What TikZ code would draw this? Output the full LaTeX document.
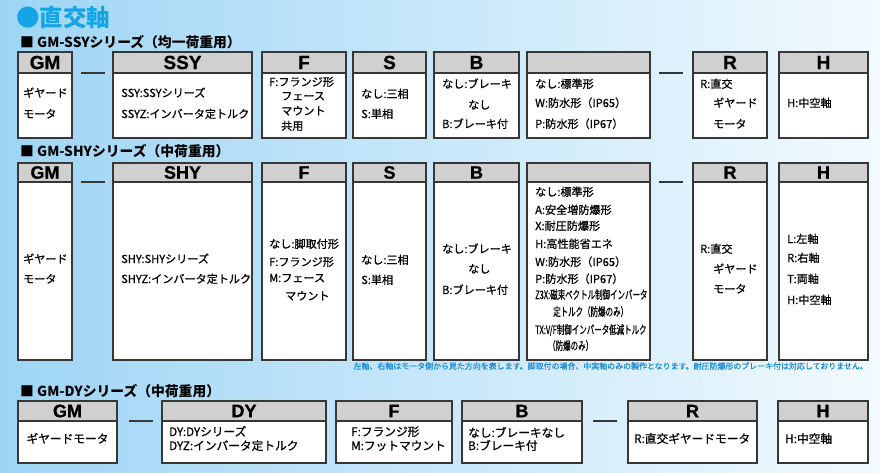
\documentclass[tikz,border=0pt]{standalone}
\usepackage{fontspec}
\usepackage{graphicx}
\setmainfont{Noto Sans CJK JP}
\newfontfamily\jpb{Noto Sans CJK JP}[FakeBold=0.7]
\newfontfamily\lsans{Liberation Sans}[FakeBold=0.8]
\usetikzlibrary{calc}
\definecolor{bgL}{RGB}{158,213,245}
\definecolor{bgM}{RGB}{214,238,251}
\definecolor{bgR}{RGB}{242,250,254}
\definecolor{ttl}{RGB}{20,165,230}
\definecolor{note}{RGB}{30,140,215}
\definecolor{hdr}{RGB}{208,208,208}
\definecolor{edge}{RGB}{55,55,55}
\tikzset{
 bodybox/.style={draw=edge, line width=1.1pt, fill=white, inner sep=0pt, outer sep=0pt, anchor=north west},
 headbox/.style={draw=edge, line width=1.1pt, fill=hdr, inner sep=0pt, outer sep=0pt, anchor=north west},
 txt/.style={anchor=west, inner sep=0pt, text height=0.8em, text depth=0.2em, font=\jpb\fontsize{11.1}{12}\selectfont},
 txtc/.style={txt, font=\jpb\fontsize{11.6}{12}\selectfont},
 txtb/.style={txt, font=\jpb\fontsize{11.7}{12}\selectfont},
 sepline/.style={draw=edge, line width=1.3pt},
 heading/.style={anchor=west, inner sep=0pt, font=\bfseries\fontsize{13.8}{14}\selectfont},
}
\newcounter{tc}
\newcommand\tline[4][]{\stepcounter{tc}\node[txt,#1] (t\arabic{tc}) at (#2,#3) {#4};}
\newcommand\specbox[8]{%
 \node[bodybox, minimum width={#4-#2}, minimum height={#5-#3}] (#1) at (#2,#3) {};
 \node[headbox, minimum width={#4-#2}, minimum height={#6}, font=\lsans\bfseries\fontsize{#8}{#8}\selectfont] (#1h) at (#2,#3) {#7};
}
\begin{document}
\begin{tikzpicture}[x=1pt,y=-1pt]
\useasboundingbox (0,0) rectangle (880,472);
\shade[left color=bgL, middle color=bgM, right color=bgR] (0,0) rectangle (880,472);

\node[anchor=west, inner sep=0pt, text=ttl, font=\bfseries\fontsize{23.5}{24}\selectfont] (title) at (16,18) {●直交軸};

% ---------- row 1
\node[heading] (hd1) at (20,42) {■ GM-SSYシリーズ（均一荷重用）};
\specbox{gma}{18}{52}{72}{138}{21}{GM}{19}
\specbox{ssya}{113}{52}{252}{138}{21}{SSY}{19}
\specbox{fa}{262}{52}{346}{138}{21}{F}{19}
\specbox{sa}{353}{52}{426}{138}{21}{S}{19}
\specbox{ba}{434}{52}{519}{138}{21}{B}{19}
\specbox{xa}{527}{52}{650}{138}{21}{}{19}
\specbox{ra}{693}{52}{767}{138}{21}{R}{19}
\specbox{ha}{779}{52}{868}{138}{21}{H}{19}
\draw[sepline] ([xshift=9pt]gmah.south east) -- ([xshift=-8pt]ssyah.south west);
\draw[sepline] ([xshift=9pt]xah.south east) -- ([xshift=-10pt]rah.south west);

\tline{23}{94}{ギヤード}
\tline{23}{115}{モータ}
\tline{121}{94}{SSY:SSYシリーズ}
\tline{121}{115}{SSYZ:インバータ定トルク}
\tline{269}{83}{F:フランジ形}
\tline{281}{97}{フェース}
\tline{281}{112}{マウント}
\tline{281}{127}{共用}
\tline{361}{95}{なし:三相}
\tline{361}{115}{S:単相}
\tline{442}{85}{なし:ブレーキ}
\tline{468}{106}{なし}
\tline{442}{125}{B:ブレーキ付}
\tline{535}{85}{なし:標準形}
\tline{535}{104}{W:防水形（IP65）}
\tline{535}{125}{P:防水形（IP67）}
\tline{700}{85}{R:直交}
\tline{713}{104}{ギヤード}
\tline{713}{125}{モータ}
\tline{787}{104}{H:中空軸}

% ---------- row 2
\node[heading] (hd2) at (20,151) {■ GM-SHYシリーズ（中荷重用）};
\specbox{gmb}{18}{163}{72}{360}{19}{GM}{18}
\specbox{shyb}{113}{163}{252}{360}{19}{SHY}{18}
\specbox{fb}{262}{163}{346}{360}{19}{F}{18}
\specbox{sb}{353}{163}{426}{360}{19}{S}{18}
\specbox{bb}{434}{163}{519}{360}{19}{B}{18}
\specbox{xb}{527}{163}{650}{360}{19}{}{18}
\specbox{rb}{693}{163}{767}{360}{19}{R}{18}
\specbox{hb}{779}{163}{868}{360}{19}{H}{18}
\draw[sepline] ([xshift=9pt]gmbh.south east) -- ([xshift=-8pt]shybh.south west);
\draw[sepline] ([xshift=9pt]xbh.south east) -- ([xshift=-10pt]rbh.south west);

\tline{23}{260}{ギヤード}
\tline{23}{280}{モータ}
\tline{121}{260}{SHY:SHYシリーズ}
\tline{121}{280}{SHYZ:インバータ定トルク}
\tline{269}{245}{なし:脚取付形}
\tline{269}{263}{F:フランジ形}
\tline{269}{279}{M:フェース}
\tline{285}{297}{マウント}
\tline{361}{261}{なし:三相}
\tline{361}{281}{S:単相}
\tline{442}{250}{なし:ブレーキ}
\tline{468}{270}{なし}
\tline{442}{291}{B:ブレーキ付}
\tline{535}{193}{なし:標準形}
\tline{535}{211}{A:安全増防爆形}
\tline{535}{227}{X:耐圧防爆形}
\tline{535}{245}{H:高性能省エネ}
\tline{535}{263}{W:防水形（IP65）}
\tline{535}{280}{P:防水形（IP67）}
\tline[txtc]{535}{296}{\scalebox{0.645}[1]{Z3X:磁束ベクトル制御インバータ}}
\tline[txtc]{553}{313}{\scalebox{0.645}[1]{定トルク（防爆のみ）}}
\tline[txtc]{535}{331}{\scalebox{0.645}[1]{TX:V/F制御インバータ低減トルク}}
\tline[txtc]{548}{347}{\scalebox{0.645}[1]{（防爆のみ）}}
\tline{700}{250}{R:直交}
\tline{713}{270}{ギヤード}
\tline{713}{290}{モータ}
\tline{787}{240}{L:左軸}
\tline{787}{259}{R:右軸}
\tline{787}{280}{T:両軸}
\tline{787}{301}{H:中空軸}

\node[anchor=east, inner sep=0pt, text=note, font=\jpb\fontsize{7.95}{8}\selectfont] (foot) at (868,366) {左軸、右軸はモータ側から見た方向を表します。脚取付の場合、中実軸のみの製作となります。耐圧防爆形のブレーキ付は対応しておりません。};

% ---------- row 3
\node[heading] (hd3) at (20,391) {■ GM-DYシリーズ（中荷重用）};
\specbox{gmc}{18}{401}{117}{463}{20}{GM}{18}
\specbox{dyc}{162}{401}{326}{463}{20}{DY}{18}
\specbox{fc}{336}{401}{452}{463}{20}{F}{18}
\specbox{bc}{462}{401}{582}{463}{20}{B}{18}
\specbox{rc}{628}{401}{757}{463}{20}{R}{18}
\specbox{hc}{778}{401}{868}{463}{20}{H}{18}
\draw[sepline] ([xshift=12pt]gmch.south east) -- ([xshift=-9pt]dych.south west);
\draw[sepline] ([xshift=11pt]bch.south east) -- ([xshift=-11pt]rch.south west);

\tline[txtb, anchor=center]{67.5}{440}{ギヤードモータ}
\tline[txtb]{169}{433}{DY:DYシリーズ}
\tline[txtb]{169}{447}{DYZ:インバータ定トルク}
\tline[txtb]{351}{433}{F:フランジ形}
\tline[txtb]{351}{447}{M:フットマウント}
\tline[txtb]{468}{434}{なし:ブレーキなし}
\tline[txtb]{468}{447}{B:ブレーキ付}
\tline[txtb]{634}{440}{R:直交ギヤードモータ}
\tline[txtb]{785}{440}{H:中空軸}
\end{tikzpicture}
\end{document}
